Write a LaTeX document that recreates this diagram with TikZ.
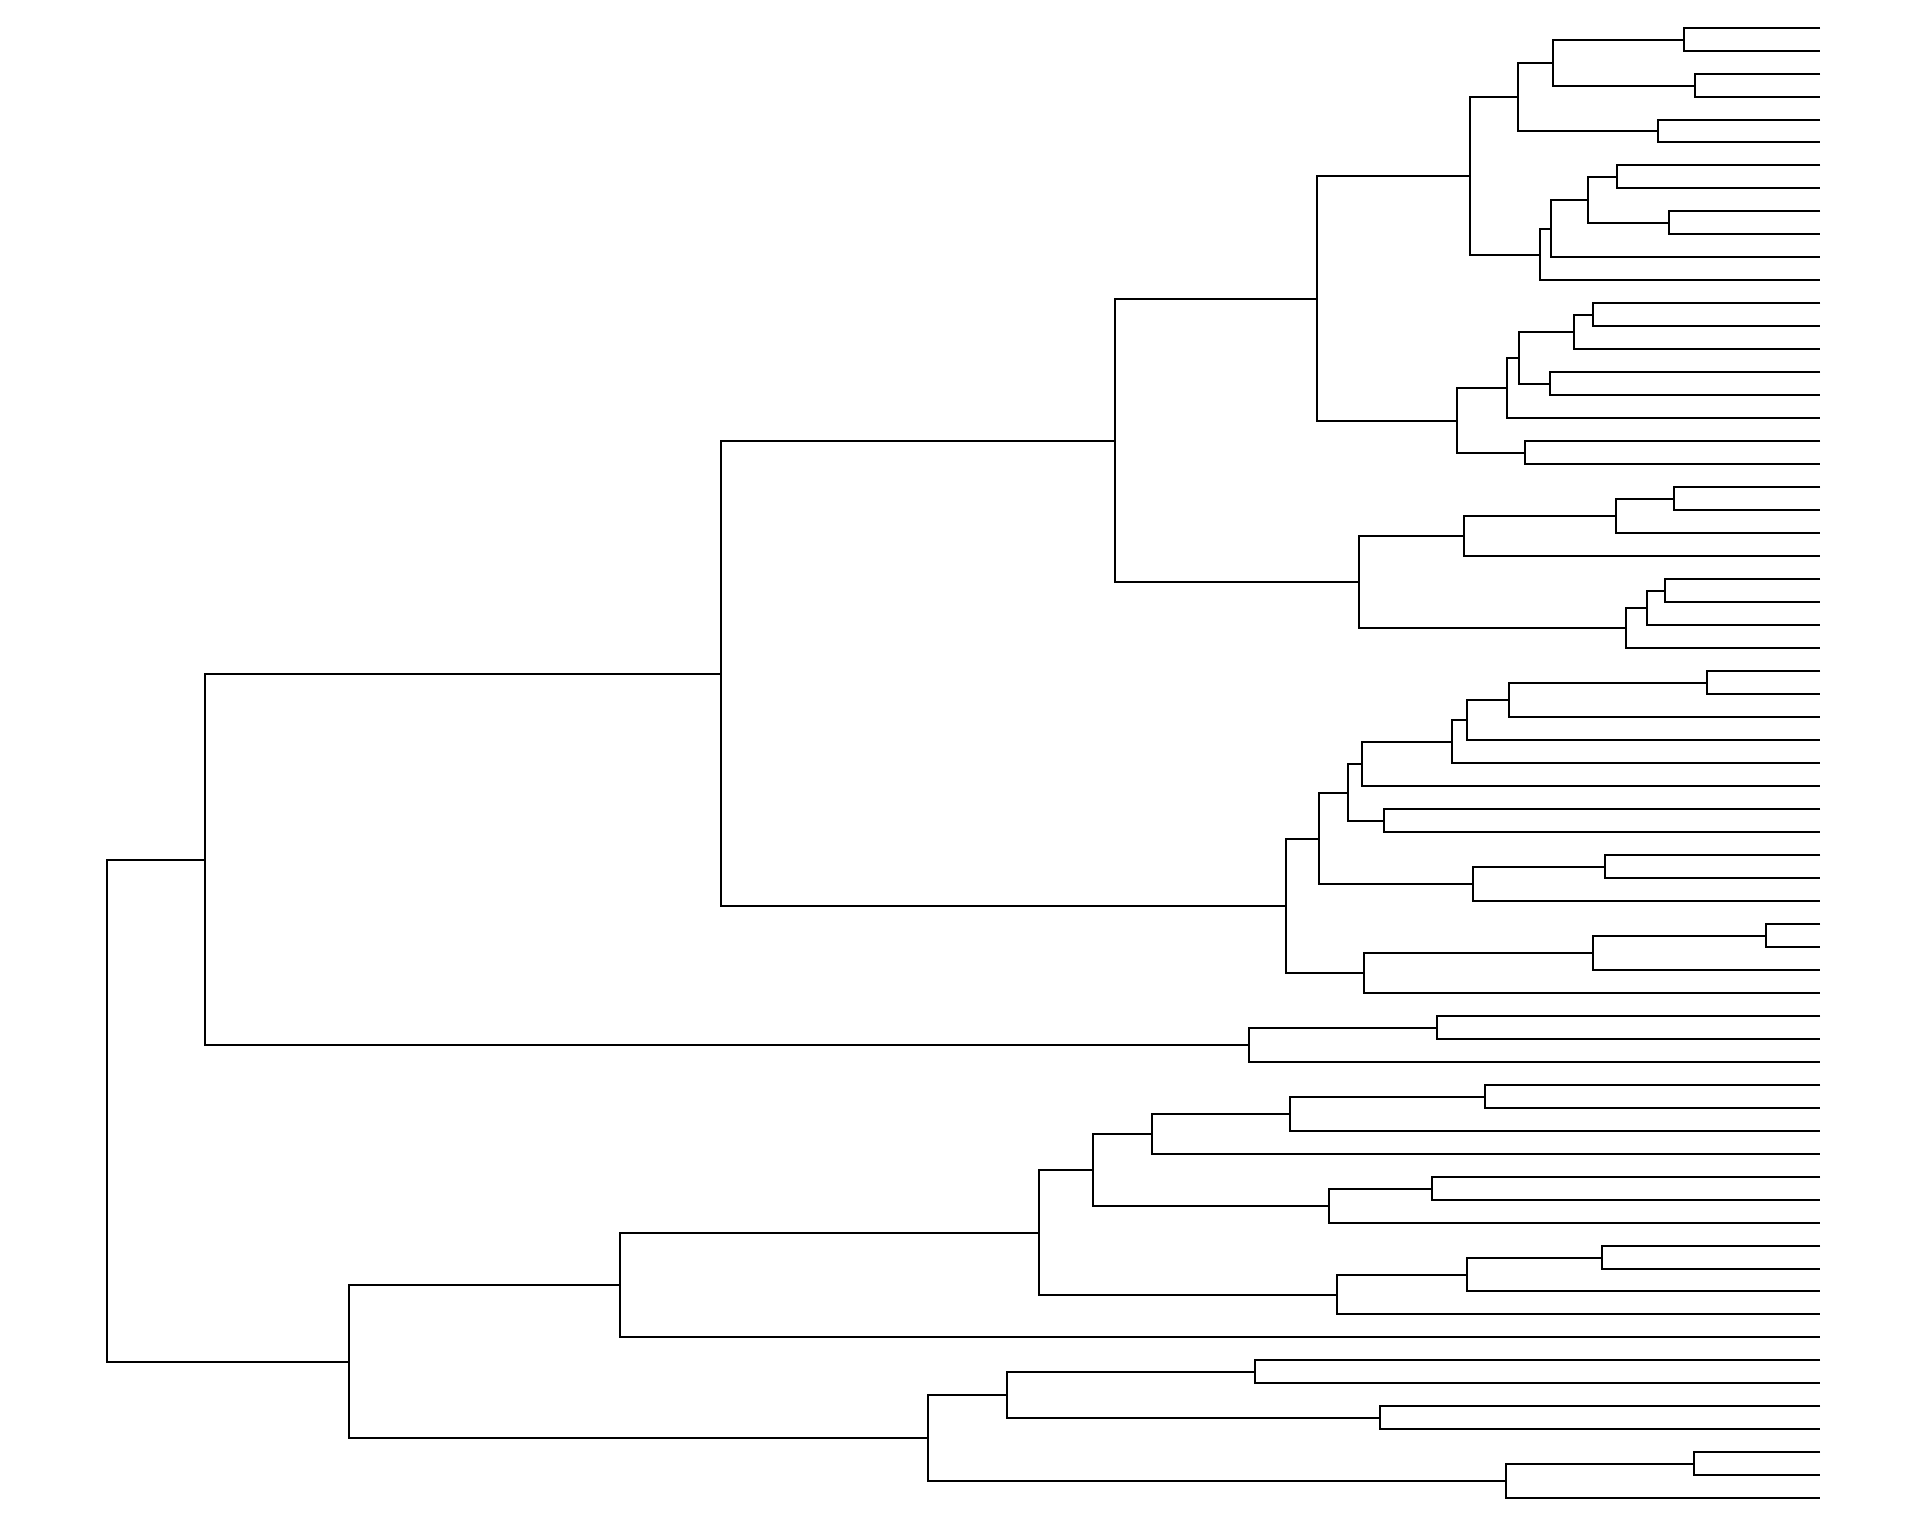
\documentclass[tikz,border=0pt]{standalone}
\usetikzlibrary{calc}
\tikzset{dline/.style={draw=black,line width=2pt,line join=miter}}
\newcommand\mrg[4]{%
  \path let \p1=(#2), \p2=(#3) in coordinate (#1) at ({round(#4)},{round((\y1+\y2)/2)});
  \draw[dline] (#2) -| (#1) |- (#3);
}
\begin{document}
\begin{tikzpicture}[x=1pt,y=1pt]
\fill[white] (0,0) rectangle (1920,-1536);
\useasboundingbox (0,0) rectangle (1920,-1536);
\foreach \i in {0,...,64}{\coordinate (L\i) at (1820,{-round(27.6+22.98*\i)});}
% cluster a
\mrg{a01}{L0}{L1}{1683.9}
\mrg{a23}{L2}{L3}{1694.9}
\mrg{a03}{a01}{a23}{1553.4}
\mrg{a45}{L4}{L5}{1658.1}
\mrg{a05}{a03}{a45}{1518}
\mrg{a67}{L6}{L7}{1617}
\mrg{a89}{L8}{L9}{1668.5}
\mrg{a69}{a67}{a89}{1588.1}
\mrg{a610}{a69}{L10}{1550.5}
\mrg{a611}{a610}{L11}{1540.2}
\mrg{a011}{a05}{a611}{1469.8}
% cluster b
\mrg{b1213}{L12}{L13}{1593.1}
\mrg{b1214}{b1213}{L14}{1573.8}
\mrg{b1516}{L15}{L16}{1549.8}
\mrg{b1216}{b1214}{b1516}{1518.7}
\mrg{b1217}{b1216}{L17}{1507.3}
\mrg{b1819}{L18}{L19}{1525.2}
\mrg{b1219}{b1217}{b1819}{1456.9}
\mrg{N1}{a011}{b1219}{1316.5}
% cluster c
\mrg{c2021}{L20}{L21}{1673.9}
\mrg{c2022}{c2021}{L22}{1616}
\mrg{c2023}{c2022}{L23}{1463.7}
\mrg{c2425}{L24}{L25}{1665.3}
\mrg{c2426}{c2425}{L26}{1647.4}
\mrg{c2427}{c2426}{L27}{1626.3}
\mrg{c2027}{c2023}{c2427}{1358.6}
\mrg{N2}{N1}{c2027}{1115.3}
% cluster d
\mrg{d2829}{L28}{L29}{1707.1}
\mrg{d2830}{d2829}{L30}{1508.7}
\mrg{d2831}{d2830}{L31}{1466.9}
\mrg{d2832}{d2831}{L32}{1451.6}
\mrg{d2833}{d2832}{L33}{1362.2}
\mrg{d3435}{L34}{L35}{1383.6}
\mrg{d2835}{d2833}{d3435}{1347.9}
\mrg{d3637}{L36}{L37}{1605.2}
\mrg{d3638}{d3637}{L38}{1473}
\mrg{d2838}{d2835}{d3638}{1318.6}
\mrg{d3940}{L39}{L40}{1766.4}
\mrg{d3941}{d3940}{L41}{1593.4}
\mrg{d3942}{d3941}{L42}{1364}
\mrg{d2842}{d2838}{d3942}{1286}
\mrg{N3}{N2}{d2842}{721}
% cluster e
\mrg{e4344}{L43}{L44}{1437.3}
\mrg{e4345}{e4344}{L45}{1249}
\mrg{N4}{N3}{e4345}{205}
% cluster f
\mrg{f4647}{L46}{L47}{1484.8}
\mrg{f4648}{f4647}{L48}{1289.6}
\mrg{f4649}{f4648}{L49}{1152}
\mrg{f5051}{L50}{L51}{1432.3}
\mrg{f5052}{f5051}{L52}{1328.6}
\mrg{f4652}{f4649}{f5052}{1093}
\mrg{f5354}{L53}{L54}{1602.4}
\mrg{f5355}{f5354}{L55}{1466.9}
\mrg{f5356}{f5355}{L56}{1336.8}
\mrg{f4656}{f4652}{f5356}{1038.7}
\mrg{f4657}{f4656}{L57}{620}
% cluster g
\mrg{g5859}{L58}{L59}{1255}
\mrg{g6061}{L60}{L61}{1380.1}
\mrg{g5861}{g5859}{g6061}{1006.9}
\mrg{g6263}{L62}{L63}{1693.5}
\mrg{g6264}{g6263}{L64}{1506.2}
\mrg{g5864}{g5861}{g6264}{928.1}
\mrg{N5}{f4657}{g5864}{348.5}
% root
\mrg{root}{N4}{N5}{107}
\end{tikzpicture}
\end{document}
